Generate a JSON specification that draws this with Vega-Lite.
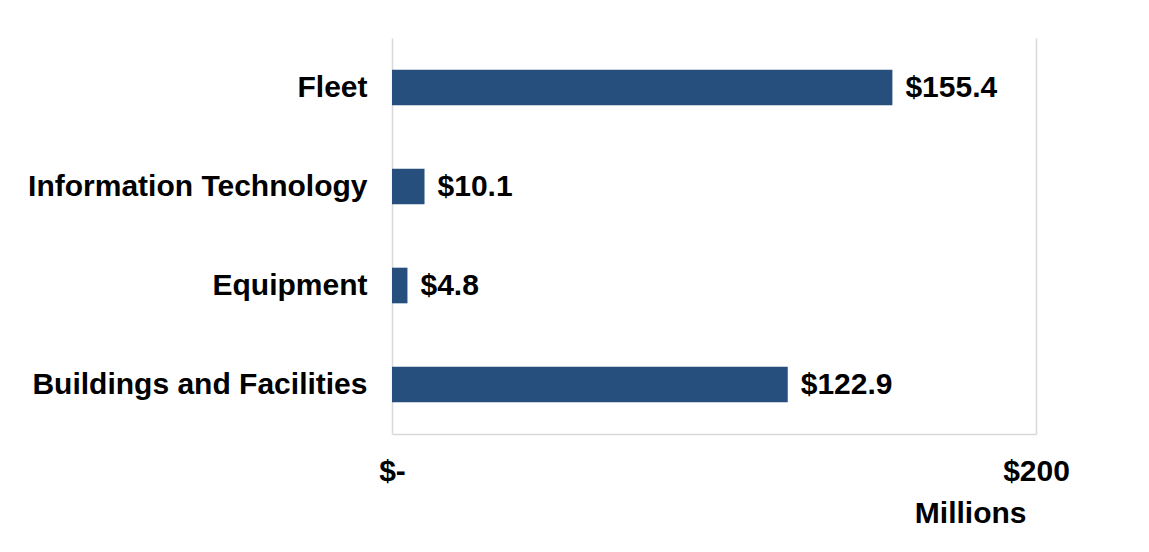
{
  "$schema": "https://vega.github.io/schema/vega-lite/v6.json",
  "autosize": "none",
  "width": 644,
  "height": 396,
  "padding": {"left": 392, "top": 38, "right": 113, "bottom": 118},
  "background": "white",
  "config": {
    "font": "Liberation Sans",
    "view": {"stroke": null}
  },
  "data": {
    "values": [
      {"category": "Fleet", "value": 155.4},
      {"category": "Information Technology", "value": 10.1},
      {"category": "Equipment", "value": 4.8},
      {"category": "Buildings and Facilities", "value": 122.9}
    ]
  },
  "encoding": {
    "y": {
      "field": "category",
      "type": "nominal",
      "sort": ["Fleet", "Information Technology", "Equipment", "Buildings and Facilities"],
      "scale": {"paddingInner": 0.64, "paddingOuter": 0.32},
      "axis": {
        "title": null,
        "domain": false,
        "ticks": false,
        "labelFontSize": 30,
        "labelFontWeight": "bold",
        "labelColor": "#000000",
        "labelPadding": 25,
        "labelLimit": 500
      }
    },
    "x": {
      "field": "value",
      "type": "quantitative",
      "scale": {"domain": [0, 200], "nice": false},
      "axis": {
        "values": [0, 200],
        "grid": true,
        "gridColor": "#d9d9d9",
        "gridWidth": 1.5,
        "domain": true,
        "domainColor": "#d9d9d9",
        "domainWidth": 1.5,
        "ticks": false,
        "labelExpr": "datum.value == 0 ? '$-' : '$' + datum.value",
        "labelFontSize": 30,
        "labelFontWeight": "bold",
        "labelColor": "#000000",
        "labelPadding": 22,
        "labelFlush": false,
        "title": "Millions",
        "titleFontSize": 30,
        "titleFontWeight": "bold",
        "titleColor": "#000000",
        "titleX": 634,
        "titleY": 88,
        "titleAlign": "right",
        "titleBaseline": "alphabetic"
      }
    }
  },
  "layer": [
    {"mark": {"type": "bar", "color": "#264f7d"}},
    {
      "mark": {"type": "text", "align": "left", "baseline": "middle", "dx": 13, "fontSize": 30, "fontWeight": "bold", "color": "#000000"},
      "encoding": {"text": {"field": "value", "type": "quantitative", "format": "$.1f"}}
    }
  ]
}
